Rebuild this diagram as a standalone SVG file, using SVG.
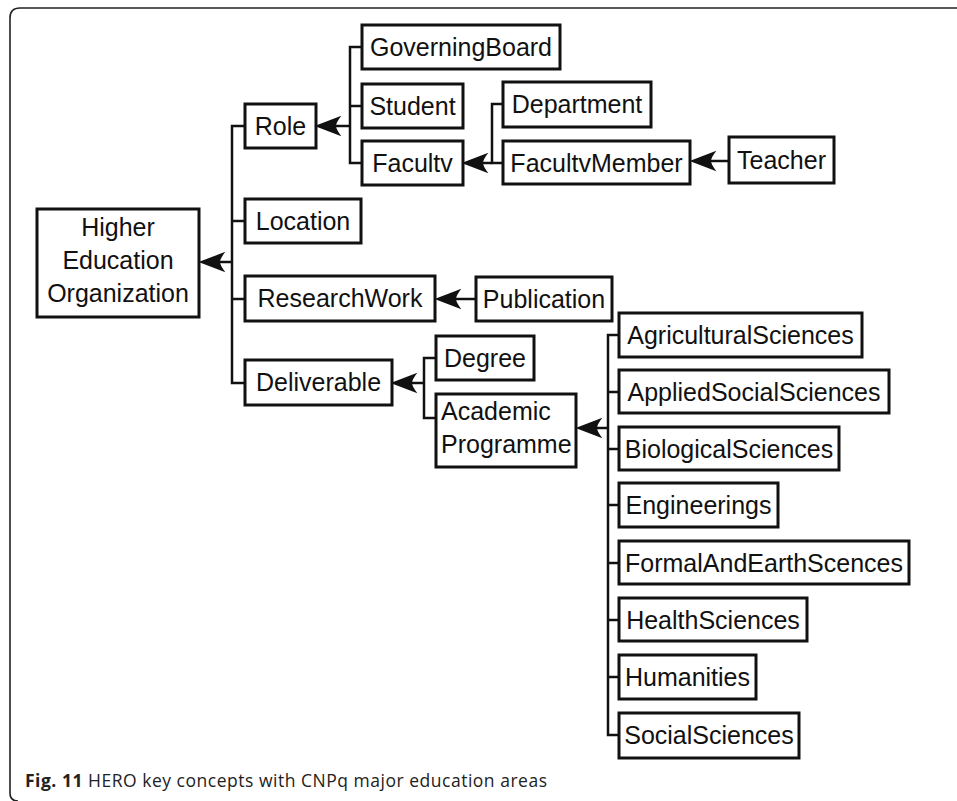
<svg xmlns="http://www.w3.org/2000/svg" width="957" height="801" viewBox="0 0 957 801">
  <style>
    .box { fill: #fff; stroke: #111; stroke-width: 3; }
    .lbl { font-family: "Liberation Sans", Arial, sans-serif; font-size: 25px; fill: #111; text-anchor: middle; }
    .lbl-l { text-anchor: start; }
    .wire { fill: none; stroke: #111; stroke-width: 2.5; }
    .frame { fill: none; stroke: #222; stroke-width: 1.6; }
    .cap { font-family: "Open Sans", "Noto Sans", sans-serif; font-size: 17.5px; fill: #222; }
  </style>
  <defs>
    <marker id="head" markerUnits="userSpaceOnUse" markerWidth="30" markerHeight="24" refX="5" refY="0" viewBox="-1 -11 28 22" orient="auto" overflow="visible">
      <path d="M25,0 L0,-9.5 Q5,-3 5,0 Q5,3 0,9.5 Z" fill="#111"/>
    </marker>
  </defs>

  <!-- figure frame -->
  <path class="frame" d="M18,801 Q10,801 10,793 L10,18 Q10,8 20,8 L957,8"/>

  <!-- connectors -->
  <g id="connectors">
    <!-- root trunk -->
    <path class="wire" d="M245,126 H232 V383 H245 M232,221 H245 M232,299 H245"/>
    <line class="wire" x1="232" y1="262" x2="220" y2="262" marker-end="url(#head)"/>
    <!-- Role trunk -->
    <path class="wire" d="M362,47 H350 V163 H362 M350,106 H362"/>
    <line class="wire" x1="350" y1="126" x2="336" y2="126" marker-end="url(#head)"/>
    <!-- Facultv trunk -->
    <path class="wire" d="M503,104 H492 V163 H503"/>
    <line class="wire" x1="492" y1="163" x2="483" y2="163" marker-end="url(#head)"/>
    <!-- Teacher to FacultvMember -->
    <line class="wire" x1="729" y1="161" x2="711" y2="161" marker-end="url(#head)"/>
    <!-- Publication to ResearchWork -->
    <line class="wire" x1="476" y1="299" x2="456" y2="299" marker-end="url(#head)"/>
    <!-- Deliverable trunk -->
    <path class="wire" d="M436,358 H424 V418 H436"/>
    <line class="wire" x1="424" y1="383" x2="412" y2="383" marker-end="url(#head)"/>
    <!-- Academic Programme trunk -->
    <path class="wire" d="M619,335 H608 V735 H619 M608,392 H619 M608,449 H619 M608,505 H619 M608,563 H619 M608,620 H619 M608,677 H619"/>
    <line class="wire" x1="608" y1="428" x2="597" y2="428" marker-end="url(#head)"/>
  </g>

  <!-- nodes -->
  <g id="n-heo">
    <rect class="box" x="37" y="209" width="162" height="108"/>
    <text class="lbl" x="118" y="236">Higher</text>
    <text class="lbl" x="118" y="269">Education</text>
    <text class="lbl" x="118" y="302">Organization</text>
  </g>
  <g id="n-role">
    <rect class="box" x="245" y="104" width="71" height="44"/>
    <text class="lbl" x="280.5" y="135">Role</text>
  </g>
  <g id="n-location">
    <rect class="box" x="245" y="199" width="116" height="44"/>
    <text class="lbl" x="303" y="230">Location</text>
  </g>
  <g id="n-researchwork">
    <rect class="box" x="245" y="276" width="190" height="45"/>
    <text class="lbl" x="340" y="307">ResearchWork</text>
  </g>
  <g id="n-deliverable">
    <rect class="box" x="245" y="360" width="147" height="45"/>
    <text class="lbl" x="318.5" y="391">Deliverable</text>
  </g>
  <g id="n-governingboard">
    <rect class="box" x="362" y="25" width="198" height="44"/>
    <text class="lbl" x="461" y="56">GoverningBoard</text>
  </g>
  <g id="n-student">
    <rect class="box" x="362" y="84" width="101" height="44"/>
    <text class="lbl" x="412.5" y="115">Student</text>
  </g>
  <g id="n-facultv">
    <rect class="box" x="362" y="141" width="101" height="44"/>
    <text class="lbl" x="412.5" y="172">Facultv</text>
  </g>
  <g id="n-department">
    <rect class="box" x="503" y="82" width="148" height="45"/>
    <text class="lbl" x="577" y="113">Department</text>
  </g>
  <g id="n-facultvmember">
    <rect class="box" x="503" y="141" width="187" height="43"/>
    <text class="lbl" x="596.5" y="172">FacultvMember</text>
  </g>
  <g id="n-teacher">
    <rect class="box" x="729" y="137" width="105" height="46"/>
    <text class="lbl" x="781.5" y="169">Teacher</text>
  </g>
  <g id="n-publication">
    <rect class="box" x="476" y="277" width="136" height="44"/>
    <text class="lbl" x="544" y="308">Publication</text>
  </g>
  <g id="n-degree">
    <rect class="box" x="436" y="336" width="98" height="44"/>
    <text class="lbl" x="485" y="367">Degree</text>
  </g>
  <g id="n-academic">
    <rect class="box" x="436" y="394" width="140" height="73"/>
    <text class="lbl lbl-l" x="441" y="420">Academic</text>
    <text class="lbl lbl-l" x="441" y="453">Programme</text>
  </g>
  <g id="n-agricultural">
    <rect class="box" x="619" y="313" width="243" height="44"/>
    <text class="lbl" x="740.5" y="344">AgriculturalSciences</text>
  </g>
  <g id="n-appliedsocial">
    <rect class="box" x="619" y="370" width="270" height="43"/>
    <text class="lbl" x="754" y="401">AppliedSocialSciences</text>
  </g>
  <g id="n-biological">
    <rect class="box" x="619" y="427" width="220" height="43"/>
    <text class="lbl" x="729" y="458">BiologicalSciences</text>
  </g>
  <g id="n-engineerings">
    <rect class="box" x="619" y="483" width="159" height="44"/>
    <text class="lbl" x="698.5" y="514">Engineerings</text>
  </g>
  <g id="n-formalearth">
    <rect class="box" x="619" y="541" width="290" height="43"/>
    <text class="lbl" x="764" y="572">FormalAndEarthScences</text>
  </g>
  <g id="n-health">
    <rect class="box" x="619" y="598" width="188" height="43"/>
    <text class="lbl" x="713" y="629">HealthSciences</text>
  </g>
  <g id="n-humanities">
    <rect class="box" x="619" y="655" width="137" height="44"/>
    <text class="lbl" x="687.5" y="686">Humanities</text>
  </g>
  <g id="n-socialsciences">
    <rect class="box" x="619" y="713" width="180" height="45"/>
    <text class="lbl" x="709" y="744">SocialSciences</text>
  </g>

  <!-- caption -->
  <text class="cap" x="25" y="787" textLength="522" lengthAdjust="spacing"><tspan font-weight="bold">Fig. 11</tspan> HERO key concepts with CNPq major education areas</text>
</svg>
